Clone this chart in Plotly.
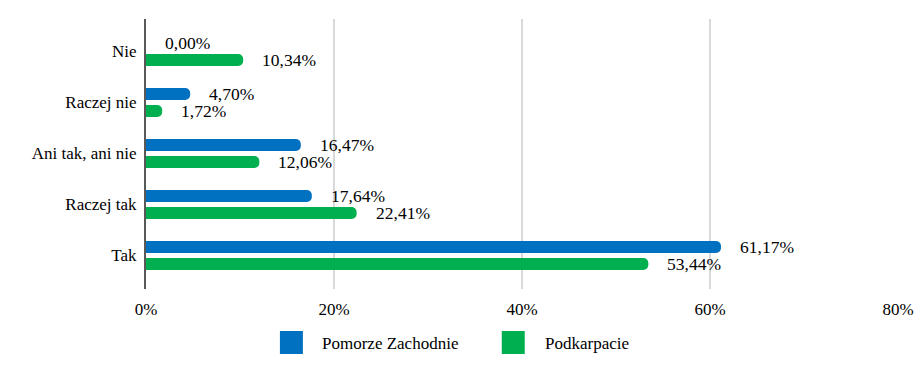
import plotly.graph_objects as go

categories = ["Nie", "Raczej nie", "Ani tak, ani nie", "Raczej tak", "Tak"]
pomorze = [0.00, 4.70, 16.47, 17.64, 61.17]
podkarpacie = [10.34, 1.72, 12.06, 22.41, 53.44]
series_names = ["Pomorze Zachodnie", "Podkarpacie"]
x_ticks = [0, 20, 40, 60, 80]

BLUE = "#0070C0"
GREEN = "#00B050"
FONT = "Liberation Serif"

def fmt(v):
    return f"{v:.2f}".replace(".", ",") + "%"

fig = go.Figure()
fig.add_trace(go.Bar(y=categories, x=pomorze, orientation="h", name=series_names[0],
                     marker=dict(color=BLUE, line=dict(width=0)), showlegend=False))
fig.add_trace(go.Bar(y=categories, x=podkarpacie, orientation="h", name=series_names[1],
                     marker=dict(color=GREEN, line=dict(width=0)), showlegend=False))

annotations = []
for c, v in zip(categories, pomorze):
    annotations.append(dict(x=v, y=c, text=fmt(v), showarrow=False, xanchor="left",
                            xshift=17, yshift=8.5, font=dict(size=17.5, color="#000", family=FONT)))
for c, v in zip(categories, podkarpacie):
    annotations.append(dict(x=v, y=c, text=fmt(v), showarrow=False, xanchor="left",
                            xshift=17, yshift=-8.5, font=dict(size=17.5, color="#000", family=FONT)))

# custom legend
L, R, T, B = 146, 918 - 898.5, 19, 374 - 289
pw, ph = 918 - L - R, 374 - T - B
def px(x):
    return (x - L) / pw
def py(y):
    return (374 - B - y) / ph

shapes = []
legend_items = [(series_names[0], BLUE, 280, 320), (series_names[1], GREEN, 502, 543)]
for name, col, sx, tx in legend_items:
    shapes.append(dict(type="rect", xref="paper", yref="paper", x0=px(sx), x1=px(sx + 23),
                       y0=py(354), y1=py(331), fillcolor=col, line=dict(width=0)))
    annotations.append(dict(xref="paper", yref="paper", x=px(tx), y=py(343), text=name,
                            showarrow=False, xanchor="left", yanchor="middle",
                            font=dict(size=17, color="#000", family=FONT)))

fig.update_layout(
    width=918, height=374,
    margin=dict(l=L, r=R, t=T, b=B, autoexpand=False),
    paper_bgcolor="white", plot_bgcolor="white",
    barmode="group", bargap=0.333, bargroupgap=0.3, barcornerradius=5,
    font=dict(family=FONT, size=17, color="#000"),
    annotations=annotations, shapes=shapes,
    showlegend=False,
)
fig.update_xaxes(range=[0, 80], tickvals=x_ticks, ticktext=[f"{t}%" for t in x_ticks],
                 showgrid=True, gridcolor="#D9D9D9", gridwidth=2, zeroline=False,
                 ticks="outside", ticklen=5, tickcolor="rgba(0,0,0,0)", automargin=False,
                 tickfont=dict(size=17, family=FONT, color="#000"))
fig.update_yaxes(autorange=False, range=[4.657, -0.637], showline=True, linecolor="#595959",
                 linewidth=2, showgrid=False, ticks="outside", ticklen=4, automargin=False,
                 tickcolor="rgba(0,0,0,0)", tickfont=dict(size=17, family=FONT, color="#000"))

fig.write_html("out.html", config={"displayModeBar": False},
               post_script="document.body.style.margin='0';")
